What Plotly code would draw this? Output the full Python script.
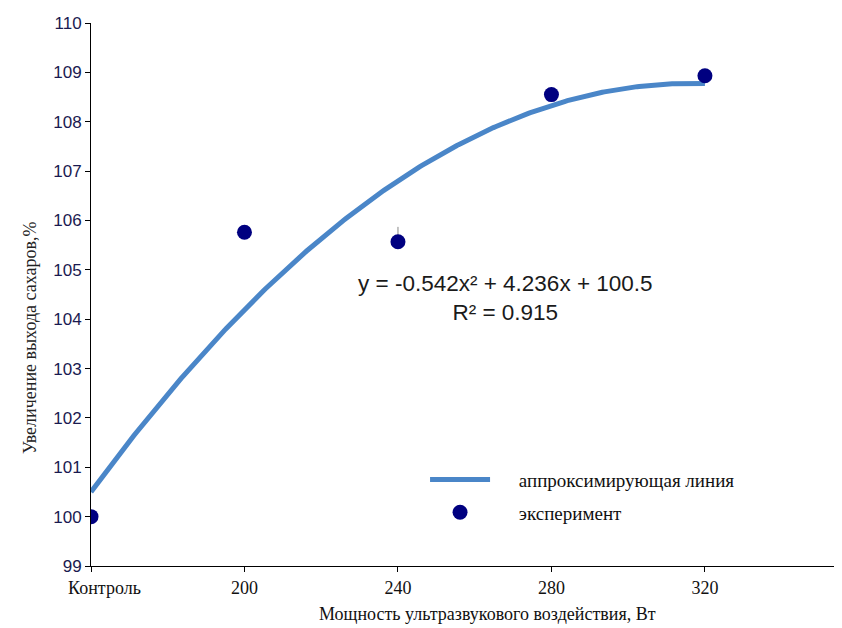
import numpy as np
import plotly.graph_objects as go

# ---- data ----
categories = ["\u00a0\u00a0\u00a0\u00a0\u00a0\u00a0Контроль", "200", "240", "280", "320"]
x_index = [0, 1, 2, 3, 4]
experiment = [100.0, 105.76, 105.57, 108.55, 108.93]
err_up = [0.0, 0.05, 0.3, 0.15, 0.0]
trend_coeffs = [-0.542, 4.236, 100.5]   # y = a x^2 + b x + c
r2_text = "0.915"

y_ticks = list(range(99, 111))

trend_x = np.linspace(0, 4, 300)
trend_y = np.polyval(trend_coeffs, trend_x)

fig = go.Figure()

fig.add_trace(go.Scatter(
    x=trend_x, y=trend_y, mode="lines",
    line=dict(color="#4A86C8", width=5),
    name="\u00a0\u00a0\u00a0\u00a0\u00a0аппроксимирующая линия",
    legendgroup="a",
))

fig.add_trace(go.Scatter(
    x=x_index, y=experiment, mode="markers",
    marker=dict(color="#000080", size=15),
    error_y=dict(type="data", array=err_up, arrayminus=[0]*5,
                 symmetric=False, color="#888888", thickness=1, width=0),
    name="\u00a0\u00a0\u00a0\u00a0\u00a0эксперимент",
    legendgroup="b",
))

eq = "y = -0.542x² + 4.236x + 100.5<br>R² = " + r2_text
fig.add_annotation(
    x=0.554, y=0.494, xref="paper", yref="paper",
    text=eq, showarrow=False, align="center",
    font=dict(family="Liberation Sans, Arial", size=22.5, color="#1a1a1a"),
)

fig.add_annotation(
    x=(18 - 91) / 749, y=(566 - 338) / 543, xref="paper", yref="paper",
    text="Увеличение выхода сахаров,%",
    showarrow=False, textangle=-90,
    font=dict(family="Liberation Serif, Times New Roman", size=18, color="#222222"),
)

fig.add_annotation(
    x=(479 - 83) / 749, y=-60 / 543, xref="paper", yref="paper",
    text="Мощность ультразвукового воздействия, Вт",
    showarrow=False,
    font=dict(family="Liberation Serif, Times New Roman", size=18, color="#111111"),
)

fig.update_layout(
    width=834, height=620,
    margin=dict(l=83, r=2, t=15, b=62),
    paper_bgcolor="white", plot_bgcolor="white",
    showlegend=True,
    legend=dict(
        x=0.446, y=0.194, xanchor="left", yanchor="top",
        font=dict(family="Liberation Serif, Times New Roman", size=19, color="#111111"),
        itemwidth=60, tracegroupgap=5, bgcolor="rgba(0,0,0,0)",
    ),
    xaxis=dict(
        range=[0, 4.88], tickvals=x_index, ticktext=categories,
        showgrid=False, zeroline=False,
        showline=True, linecolor="black", linewidth=1,
        ticks="outside", ticklen=5, tickcolor="black",
        tickfont=dict(family="Liberation Serif, Times New Roman", size=18, color="#111111"),
    ),
    yaxis=dict(
        range=[99, 110], tickvals=y_ticks,
        showgrid=False, zeroline=False,
        showline=True, linecolor="black", linewidth=1,
        ticks="outside", ticklen=5, tickcolor="black",
        tickfont=dict(family="Liberation Sans, Arial", size=17, color="#1a1a50"),
    ),
)

fig.write_html("out.html")
